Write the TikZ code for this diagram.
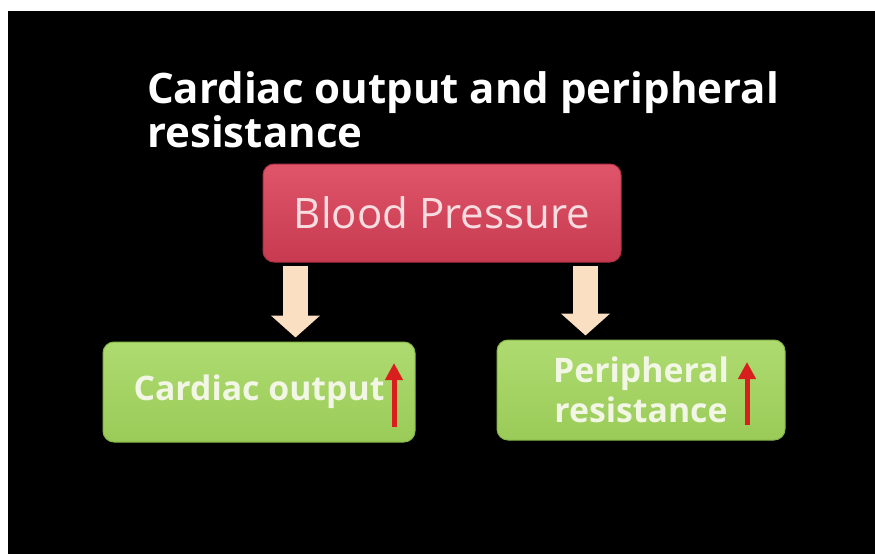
\documentclass[tikz,border=0pt]{standalone}
\usepackage{fontspec}
\setmainfont{Open Sans}
\usetikzlibrary{arrows.meta}
\definecolor{bptop}{HTML}{E0556A}
\definecolor{bpbot}{HTML}{C73A4F}
\definecolor{bpline}{HTML}{B03045}
\definecolor{bptext}{HTML}{F9DCE0}
\definecolor{gtop}{HTML}{AEDB70}
\definecolor{gbot}{HTML}{9ACB58}
\definecolor{gline}{HTML}{86B64A}
\definecolor{gtext}{HTML}{F2F6E4}
\definecolor{fat}{HTML}{FADFC2}
\definecolor{upred}{HTML}{D91E1E}
\begin{document}
\begin{tikzpicture}[x=1pt,y=-1pt,
  bpbox/.style={rounded corners=11pt, inner sep=0pt, draw=bpline, line width=1pt,
    top color=bptop, bottom color=bpbot, text=bptext,
    font=\fontsize{42}{46}\selectfont},
  gbox/.style={rounded corners=11pt, inner sep=0pt, draw=gline, line width=1pt,
    top color=gtop, bottom color=gbot, text=gtext, align=center,
    font=\bfseries\fontsize{33.8}{40}\selectfont},
  titletext/.style={text=white, inner sep=0pt, anchor=base west,
    font=\bfseries\fontsize{42}{44}\selectfont},
  fatarrow/.style={draw=fat, line width=25pt,
    -{Triangle[width=48pt,length=22pt]}, shorten <=3pt, shorten >=4pt},
  uparrow/.style={draw=upred, line width=5pt,
    -{Triangle[width=17pt,length=17pt]}}]
\useasboundingbox (0,0) rectangle (875,554);
\fill[white] (0,0) rectangle (875,554);
\fill[black] (8,11) rectangle (875,554);

\node[titletext] (t1) at (147,103) {Cardiac output and peripheral};
\node[titletext] (t2) at (147,147) {resistance};

\node[bpbox, minimum width=358pt, minimum height=98pt] (bp) at (442,213) {Blood Pressure};
\node[gbox, minimum width=312pt, minimum height=100pt] (co) at (259,392) {Cardiac output};
\node[gbox, minimum width=288pt, minimum height=100pt] (pr) at (641,390) {Peripheral\\resistance};

\coordinate (a1) at ([xshift=33pt]bp.south west);
\coordinate (a2) at ([xshift=-36pt]bp.south east);
\draw[fatarrow] (a1) -- (a1 |- co.north);
\draw[fatarrow] (a2) -- (a2 |- pr.north);

\coordinate (u1s) at (394,427);
\coordinate (u1e) at (394,363);
\coordinate (u2s) at (747,425);
\coordinate (u2e) at (747,362);
\draw[uparrow] (u1s) -- (u1e);
\draw[uparrow] (u2s) -- (u2e);
\end{tikzpicture}
\end{document}
